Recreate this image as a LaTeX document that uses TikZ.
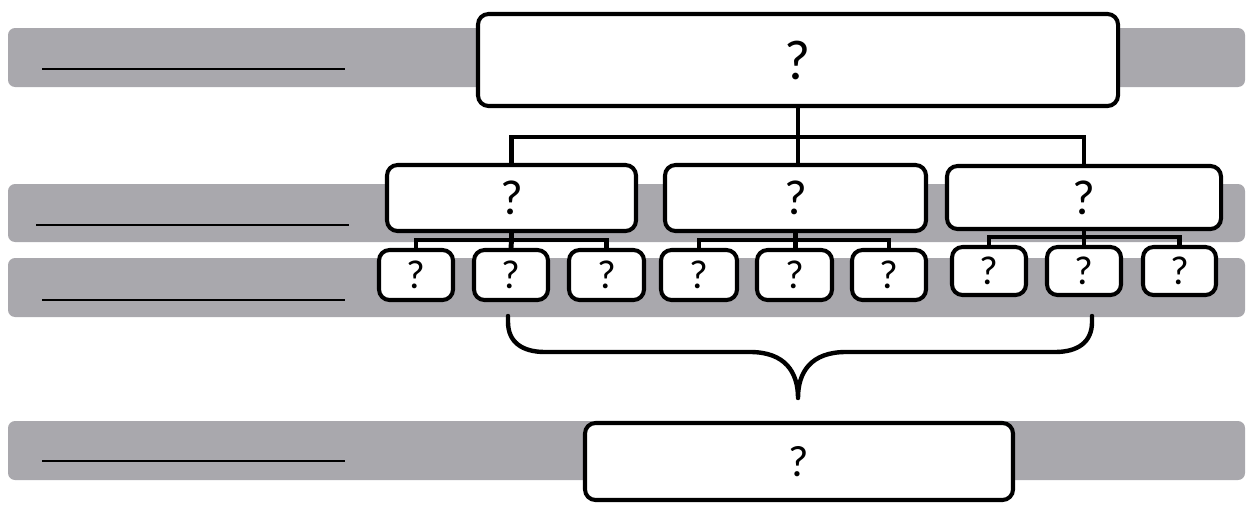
\documentclass[tikz,border=0pt]{standalone}
\usepackage{fontspec}
\setmainfont{Carlito}
\definecolor{bandgrey}{HTML}{A9A8AD}
\tikzset{
  band/.style={fill=bandgrey, draw=none, rounded corners=4pt},
  blank/.style={line width=1.2pt, black},
  qnode/.style={draw=black, fill=white, line width=2.3pt, rounded corners=6pt,
    inner sep=0pt, align=center},
  link/.style={draw=black, line width=2.5pt},
  sublink/.style={draw=black, line width=2.8pt},
}
% \qbox{name}{left}{right}{top}{bottom}{font size}
\newcommand\qbox[6]{%
  \pgfmathsetmacro\qw{(#3-#2-4)*0.02}%
  \pgfmathsetmacro\qh{(#5-#4-4)*0.02}%
  \node[qnode, minimum width=\qw cm, minimum height=\qh cm,
        font=\fontsize{#6}{#6}\selectfont]
    (#1) at ({(#2+#3)/2},{(#4+#5)/2}) {?};%
}
\begin{document}
\begin{tikzpicture}[x=0.02cm, y=-0.02cm]
  \useasboundingbox (0,0) rectangle (1250,504);

  % grey level bands with blank lines
  \fill[band] (8,28) rectangle (1245,87);
  \fill[band] (8,184) rectangle (1245,242);
  \fill[band] (8,258) rectangle (1245,317);
  \fill[band] (8,421) rectangle (1245,480);
  \draw[blank] (42,69) -- (345,69);
  \draw[blank] (36,225) -- (349,225);
  \draw[blank] (42,300) -- (345,300);
  \draw[blank] (42,461) -- (345,461);

  % top level
  \qbox{top}{476}{1120}{12}{108}{32}

  % second level
  \qbox{m1}{385}{638}{163}{233}{28}
  \qbox{m2}{663}{928}{163}{233}{28}
  \qbox{m3}{945}{1223}{164}{231}{28}

  % third level
  \qbox{s11}{377}{455}{248}{302}{23}
  \qbox{s12}{472}{550}{248}{302}{23}
  \qbox{s13}{567}{646}{248}{302}{23}
  \qbox{s21}{659}{739}{248}{302}{23}
  \qbox{s22}{755}{834}{248}{302}{23}
  \qbox{s23}{850}{928}{248}{302}{23}
  \qbox{s31}{950}{1028}{245}{297}{23}
  \qbox{s32}{1045}{1123}{245}{297}{23}
  \qbox{s33}{1141}{1218}{245}{297}{23}

  % bottom result
  \qbox{res}{583}{1015}{421}{502}{25}

  % connectors top -> second level
  \coordinate (j0) at (top.south |- 0,137);
  \draw[link] (top.south) -- (j0);
  \draw[link] (m1.north) |- (j0) -| (m3.north);
  \draw[link] (j0) -- (j0 |- m2.north);

  % connectors second -> third level
  \coordinate (j1) at (m1.south |- 0,240);
  \draw[sublink] (m1.south) -- (j1);
  \draw[sublink] (s11.north) |- (j1) -| (s13.north);
  \draw[sublink] (j1) -- (s12.north);

  \coordinate (j2) at (m2.south |- 0,240);
  \draw[sublink] (m2.south) -- (j2);
  \draw[sublink] (s21.north) |- (j2) -| (s23.north);
  \draw[sublink] (j2) -- (j2 |- s22.north);

  \coordinate (j3) at (m3.south |- 0,237);
  \draw[sublink] (m3.south) -- (j3);
  \draw[sublink] (s31.north) |- (j3) -| (s33.north);
  \draw[sublink] (j3) -- (s32.north);

  % brace gathering the third level
  \coordinate (tip) at (798,398);
  \draw[link, line cap=round, line join=round]
    (508,316) -- (508,322)
    .. controls (508,342) and (522,352) .. (545,352)
    -- (750,352)
    .. controls (785,352) and (798,372) .. (tip)
    .. controls (798,372) and (811,352) .. (846,352)
    -- (1055,352)
    .. controls (1078,352) and (1092,342) .. (1092,322)
    -- (1092,316);
\end{tikzpicture}
\end{document}
